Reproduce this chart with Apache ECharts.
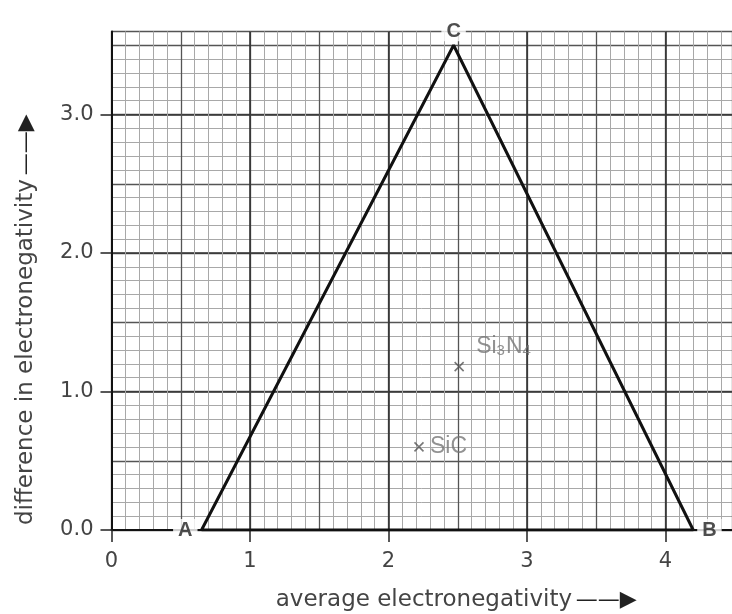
<!DOCTYPE html>
<html>
<head>
<meta charset="utf-8">
<title>Bonding triangle</title>
<script src="https://cdn.jsdelivr.net/npm/echarts@6/dist/echarts.min.js"></script>
<style>
html, body { margin: 0; padding: 0; background: #fff; }
#main { width: 732px; height: 614px; }
</style>
</head>
<body>
<div id="main"></div>
<script>
// corners of the triangle (average EN, difference in EN)
const cornerNames = ["A", "C", "B"];
const cornerX = [0.65, 2.47, 4.2];
const cornerY = [0, 3.5, 0];
// compounds marked on the paper
const compoundNames = ["SiC", "Si3N4"];
const compoundX = [2.22, 2.51];
const compoundY = [0.6, 1.18];
// tick labels
const xTicks = [0, 1, 2, 3, 4];
const yTicks = [0, 1, 2, 3];

const X_MAX = 4.48;
const Y_MAX = 3.6;

let chartDom = document.getElementById("main");
let myChart = echarts.init(chartDom);

// closed outline A -> C -> B -> A
const outline = cornerX.map((x, i) => [x, cornerY[i]]);
outline.push(outline[0]);

const labelPos = { A: "left", B: "right", C: "top" };

// graph paper: fine lines every 0.1, medium every 0.5, heavy every 1
const paperX = (interval, color, width, pos) => ({
	type: "value", min: 0, max: X_MAX, interval: interval, position: pos,
	axisLine: { show: false }, axisTick: { show: false }, axisLabel: { show: false },
	splitLine: { show: true, lineStyle: { color: color, width: width } }
});
const paperY = (interval, color, width, pos) => ({
	type: "value", min: 0, max: Y_MAX, interval: interval, position: pos,
	axisLine: { show: false }, axisTick: { show: false }, axisLabel: { show: false },
	splitLine: { show: true, lineStyle: { color: color, width: width } }
});

const nameStyle = (pad) => ({
	padding: pad,
	rich: {
		t: { fontSize: 23, color: "#444", fontFamily: "DejaVu Sans" },
		a: { fontSize: 22, color: "#222", fontFamily: "DejaVu Sans" }
	}
});

let option = {
	backgroundColor: "#fff",
	animation: false,
	textStyle: { fontFamily: "DejaVu Sans, sans-serif" },
	grid: { left: 111.5, right: 0, top: 31.4, bottom: 84, outerBoundsMode: "none", containLabel: false },
	xAxis: [
		paperX(0.1, "#a8a8a8", 1, "top"),
		paperX(0.5, "#555", 1.3, "top"),
		{
			type: "value", min: 0, max: X_MAX, interval: 1, position: "bottom",
			axisLine: { show: true, onZero: false, lineStyle: { color: "#111", width: 2 } },
			axisTick: { show: true, customValues: xTicks, length: 12, lineStyle: { color: "#222", width: 1.5 } },
			axisLabel: { customValues: xTicks, margin: 21, fontSize: 21, color: "#444" },
			splitLine: { show: true, lineStyle: { color: "#333", width: 1.6 } },
			name: "{t|average electronegativity} {a|——▶}",
			nameLocation: "middle",
			nameGap: 59,
			nameTextStyle: nameStyle([0, 0, 0, 69])
		}
	],
	yAxis: [
		paperY(0.1, "#a8a8a8", 1, "right"),
		paperY(0.5, "#555", 1.3, "right"),
		{
			type: "value", min: 0, max: Y_MAX, interval: 1, position: "left",
			axisLine: { show: true, onZero: false, lineStyle: { color: "#111", width: 2 } },
			axisTick: { show: true, customValues: yTicks, length: 11, lineStyle: { color: "#222", width: 1.5 } },
			axisLabel: {
				customValues: yTicks, margin: 18, fontSize: 21, color: "#444",
				formatter: (v) => v.toFixed(1)
			},
			splitLine: { show: true, lineStyle: { color: "#333", width: 1.6 } },
			name: "{t|difference in electronegativity} {a|——▶}",
			nameLocation: "middle",
			nameRotate: 90,
			nameGap: 74,
			nameTextStyle: nameStyle([0, 78, 0, 0])
		}
	],
	series: [
		{
			name: "triangle",
			type: "line",
			xAxisIndex: 2,
			yAxisIndex: 2,
			data: outline,
			showSymbol: false,
			lineStyle: { color: "#111", width: 3 },
			z: 5
		},
		{
			name: "corners",
			type: "scatter",
			xAxisIndex: 2,
			yAxisIndex: 2,
			symbolSize: 0,
			data: cornerNames.map((n, i) => ({
				name: n,
				value: [cornerX[i], cornerY[i]],
				label: { position: labelPos[n] }
			})),
			label: {
				show: true,
				formatter: "{b}",
				fontSize: 20,
				fontWeight: "bold",
				fontFamily: "Liberation Sans, Arial, sans-serif",
				color: "#222",
				distance: 4,
				backgroundColor: "#fff",
				padding: [2, 5, 0, 5]
			},
			z: 6
		},
		{
			name: "compounds",
			type: "scatter",
			xAxisIndex: 2,
			yAxisIndex: 2,
			symbol: "path://M0,0L10,10M10,0L0,10",
			symbolSize: 9,
			itemStyle: { color: "none", borderColor: "#555", borderWidth: 1.6 },
			data: compoundNames.map((n, i) => ({ name: n, value: [compoundX[i], compoundY[i]] })),
			label: {
				show: true,
				position: "right",
				distance: 4,
				color: "#777",
				formatter: (p) => p.name === "Si3N4" ? "{b|Si}{s|3}{b|N}{s|4}" : "{b|" + p.name + "}",
				rich: {
					b: { fontSize: 23, color: "#777", fontFamily: "Liberation Sans" },
					s: { fontSize: 15, color: "#777", fontFamily: "Liberation Sans", padding: [9, 1, 0, 0] }
				}
			},
			labelLayout: (p) => p.text.indexOf("Si}{s|3") >= 0 ? { dx: 6, dy: -20 } : {},
			z: 6
		}
	]
};

myChart.setOption(option);
</script>
</body>
</html>
